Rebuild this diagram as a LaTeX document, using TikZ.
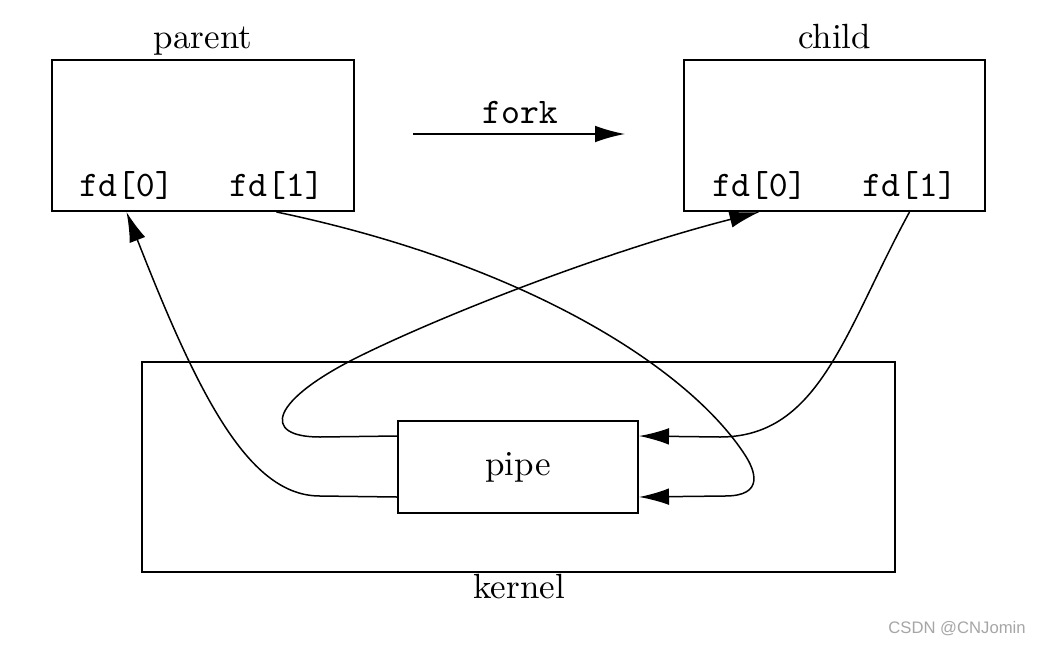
\documentclass[tikz,border=0pt]{standalone}
\usepackage{fontspec}
\setsansfont{Liberation Sans}
\usetikzlibrary{arrows.meta,calc}
\begin{document}
\begin{tikzpicture}[x=0.3pt,y=-0.3pt,
  box/.style={draw,line width=0.6pt,inner sep=0pt},
  lbl/.style={font=\fontsize{10.5}{12}\selectfont,anchor=base,inner sep=0pt},
  fdl/.style={font=\ttfamily\fontsize{10.8}{12}\selectfont,anchor=base,inner sep=0pt},
  conn/.style={line width=0.45pt},
  arr/.style={conn,-{Latex[length=9pt,width=5pt]}}]
\useasboundingbox[fill=white] (0,0) rectangle (1045,644);
% process boxes
\node[box,minimum width=90.6pt,minimum height=45.3pt] (parent) at (203,135.5) {};
\node[box,minimum width=90.3pt,minimum height=45.3pt] (child) at (834.5,135.5) {};
\node[lbl] (parentlbl) at (203,48) {parent};
\node[lbl] (childlbl) at (834.5,48) {child};
\node[fdl] (pfd0) at (126.5,196) {fd[0]};
\node[fdl] (pfd1) at (276.5,196) {fd[1]};
\node[fdl] (cfd0) at (759.5,196) {fd[0]};
\node[fdl] (cfd1) at (909.5,196) {fd[1]};
% fork arrow
\node[fdl] (forklbl) at (520,123) {fork};
\coordinate (fs) at (413,134);
\coordinate (fe) at (625,134);
\draw[arr] (fs) -- (fe);
% kernel and pipe
\node[box,minimum width=225.9pt,minimum height=63pt] (kernel) at (518.5,467) {};
\node[lbl] (kernellbl) at (519,598) {kernel};
\node[box,minimum width=72pt,minimum height=27.6pt,font=\fontsize{10.5}{12}\selectfont] (pipe) at (518,467) {pipe};
\coordinate (pLup) at ($(pipe.north west)+(0,16)$);
\coordinate (pLlo) at ($(pipe.south west)+(0,-17)$);
\coordinate (pRup) at ($(pipe.north east)+(0,16)$);
\coordinate (pRlo) at ($(pipe.south east)+(0,-17)$);
% connectors
\draw[arr] (pLlo) -- (320,496) .. controls (250,496) and (200,400) .. (pfd0 |- parent.south);
\draw[arr] (pLup) -- (320,437) .. controls (260,437) and (270,400) .. (362,355)
  .. controls (450,312) and (610,250) .. (cfd0 |- child.south);
\draw[arr] (cfd1 |- child.south) .. controls (845,330) and (820,437) .. (720,437) -- (pRup);
\draw[arr] (pfd1 |- parent.south) .. controls (530,265) and (690,370) .. (745,455)
  .. controls (755,470.5) and (765,496) .. (725,496) -- (pRlo);
% watermark
\node[font=\sffamily\fontsize{5}{6}\selectfont,text=gray!70,anchor=base,inner sep=0pt] (wm) at (957,633) {CSDN @CNJomin};
\end{tikzpicture}
\end{document}
